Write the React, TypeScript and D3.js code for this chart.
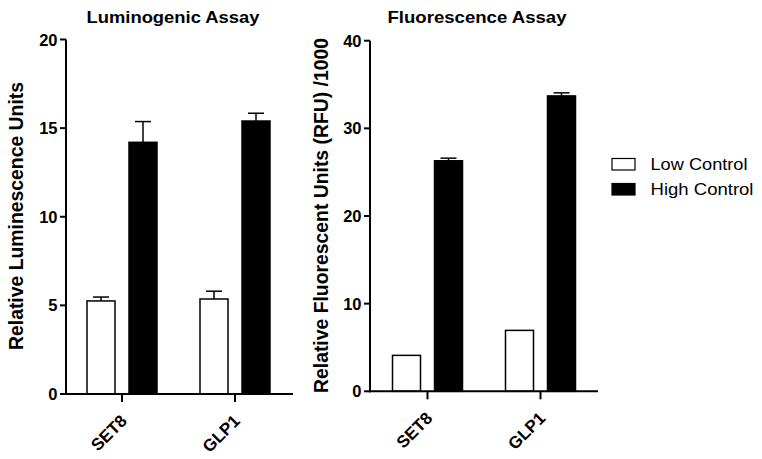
import React from "react";
import * as d3 from "d3";

const categories = ["SET8", "GLP1"];
const seriesNames = ["Low Control", "High Control"];
const lumValues = [[5.25, 5.36], [14.2, 15.4]];
const lumErrors = [[0.22, 0.44], [1.17, 0.44]];
const fluValues = [[4.1, 6.95], [26.3, 33.7]];
const fluErrors = [[0, 0], [0.3, 0.35]];
const lumTicks = [0, 5, 10, 15, 20];
const fluTicks = [0, 10, 20, 30, 40];
const fills = ["#ffffff", "#000000"];

const FONT = "Liberation Sans, Arial, Helvetica, sans-serif";

type PanelProps = {
  title: string;
  titleLen: number;
  yLabel: string;
  yLabelLen: number;
  yLabelCenter: number;
  values: number[][];
  errors: number[][];
  ticks: number[];
  x0: number;
  x1: number;
  y0: number;
  y1: number;
  yMax: number;
  labelX: number;
  catCenters: [number, number];
};

function Panel(p: PanelProps) {
  const y = d3.scaleLinear().domain([0, p.yMax]).range([p.y0, p.y1]);
  const x = d3.scalePoint<string>().domain(categories).range(p.catCenters);
  const barW = 28;
  const gap = 14;
  const bars: React.ReactNode[] = [];
  categories.forEach((c, ci) => {
    const cx = x(c)!;
    seriesNames.forEach((s, si) => {
      const v = p.values[si][ci];
      const e = p.errors[si][ci];
      const left = si === 0 ? cx - gap / 2 - barW : cx + gap / 2;
      const mid = left + barW / 2;
      if (e > 0) {
        bars.push(
          <g key={`e${ci}${si}`} stroke="#000" strokeWidth={1.5}>
            <line x1={mid} x2={mid} y1={y(v)} y2={y(v + e)} />
            <line x1={mid - 8} x2={mid + 8} y1={y(v + e)} y2={y(v + e)} />
          </g>
        );
      }
      bars.push(
        <rect
          key={`b${ci}${si}`}
          x={left}
          y={y(v)}
          width={barW}
          height={p.y0 - y(v)}
          fill={fills[si]}
          stroke="#000"
          strokeWidth={1.5}
        />
      );
    });
  });
  return (
    <g fontFamily={FONT}>
      <text
        x={p.x0 + 107}
        y={23}
        textAnchor="middle"
        fontWeight="bold"
        fontSize={16.5}
        textLength={p.titleLen}
        lengthAdjust="spacingAndGlyphs"
      >
        {p.title}
      </text>
      <text
        transform={`translate(${p.labelX},${p.yLabelCenter}) rotate(-90) scale(1,1.17)`}
        textAnchor="middle"
        fontWeight="bold"
        fontSize={17}
        textLength={p.yLabelLen}
        lengthAdjust="spacingAndGlyphs"
      >
        {p.yLabel}
      </text>
      {bars}
      <line x1={p.x0} x2={p.x0} y1={p.y0 + 1} y2={p.y1} stroke="#000" strokeWidth={2} />
      <line x1={p.x0 - 1} x2={p.x1} y1={p.y0} y2={p.y0} stroke="#000" strokeWidth={2} />
      {p.ticks.map((t) => (
        <g key={t}>
          <line x1={p.x0 - 6} x2={p.x0} y1={y(t)} y2={y(t)} stroke="#000" strokeWidth={2} />
          <text x={p.x0 - 8.5} y={y(t) + 6} textAnchor="end" fontWeight="bold" fontSize={16.5}>
            {t}
          </text>
        </g>
      ))}
      {categories.map((c) => (
        <g key={c}>
          <line x1={x(c)!} x2={x(c)!} y1={p.y0} y2={p.y0 + 8} stroke="#000" strokeWidth={2} />
          <text
            transform={`translate(${x(c)! + 6},${p.y0 + 28}) rotate(-45)`}
            textAnchor="end"
            fontWeight="bold"
            fontSize={17}
          >
            {c}
          </text>
        </g>
      ))}
    </g>
  );
}

export default function App() {
  return (
    <svg width={762} height={459} style={{ position: "absolute", left: 0, top: 0, background: "#fff" }}>
      <rect width={762} height={459} fill="#fff" />
      <Panel
        title="Luminogenic Assay"
        titleLen={173}
        yLabel="Relative Luminescence Units"
        yLabelLen={268}
        yLabelCenter={216}
        values={lumValues}
        errors={lumErrors}
        ticks={lumTicks}
        x0={66}
        x1={293}
        y0={394}
        y1={39.5}
        yMax={20}
        labelX={23}
        catCenters={[122, 235]}
      />
      <Panel
        title="Fluorescence Assay"
        titleLen={179}
        yLabel="Relative Fluorescent Units (RFU) /1000"
        yLabelLen={355}
        yLabelCenter={215.5}
        values={fluValues}
        errors={fluErrors}
        ticks={fluTicks}
        x0={370}
        x1={598}
        y0={391.3}
        y1={40.7}
        yMax={40}
        labelX={328}
        catCenters={[427.5, 540.5]}
      />
      <g fontFamily={FONT} fontSize={16.5}>
        {seriesNames.map((s, i) => (
          <g key={s}>
            <rect x={612} y={158.5 + i * 25} width={23} height={11.5} fill={fills[i]} stroke="#000" strokeWidth={1.2} />
            <text x={650.5} y={170 + i * 25} textLength={i === 0 ? 97 : 103} lengthAdjust="spacingAndGlyphs">
              {s}
            </text>
          </g>
        ))}
      </g>
    </svg>
  );
}
